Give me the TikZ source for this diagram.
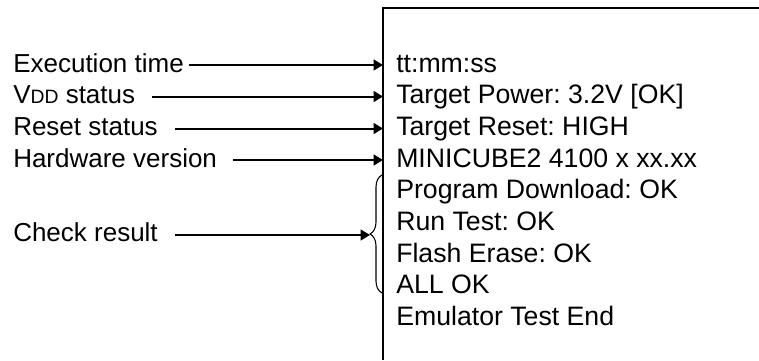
\documentclass[tikz,border=0pt]{standalone}
\usepackage{fontspec}
\setmainfont{Liberation Sans}
\usetikzlibrary{arrows.meta,decorations.pathreplacing}
\tikzset{
  txt/.style={anchor=base west,inner sep=0pt,font=\fontsize{20pt}{24pt}\selectfont},
  lab/.style={anchor=base west,inner sep=0pt,font=\fontsize{19.5pt}{23pt}\selectfont},
  arr/.style={line width=1.5pt,-{Triangle[length=7pt,width=8pt]}},
  frame/.style={line width=0.8pt},
  brc/.style={line width=0.8pt,decorate,decoration={brace,amplitude=9pt}}
}
\begin{document}
\frenchspacing
\begin{tikzpicture}[x=0.75pt,y=-0.75pt]
\useasboundingbox (0,0) rectangle (759,360);
% frame (cropped box)
\draw[frame] (383,360) -- (383,8) -- (759,8);
% right texts
\node[txt] (r1) at (396,72.0) {tt:mm:ss};
\node[txt] (r2) at (396,103.7) {Target Power: 3.2V [OK]};
\node[txt] (r3) at (396,135.4) {Target Reset: HIGH};
\node[txt] (r4) at (396,167.1) {MINICUBE2 4100 x xx.xx};
\node[txt] (r5) at (396,198.8) {Program Download: OK};
\node[txt] (r6) at (396,230.5) {Run Test: OK};
\node[txt] (r7) at (396,262.2) {Flash Erase: OK};
\node[txt] (r8) at (396,293.9) {ALL OK};
\node[txt] (r9) at (396,325.6) {Emulator Test End};
% left labels
\node[lab] (l1) at (13,72.0) {Execution time};
\node[lab] (l2) at (13,103.7) {V{\fontsize{14.5pt}{16pt}\selectfont DD} status};
\node[lab] (l3) at (13,135.4) {Reset status};
\node[lab] (l4) at (13,167.1) {Hardware version};
\node[lab] (l5) at (13,241) {Check result};
% connector ends
\coordinate (s1) at (189,65);   \coordinate (e1) at (383,65);
\coordinate (s2) at (152,96.5); \coordinate (e2) at (383,96.5);
\coordinate (s3) at (175,128.5);\coordinate (e3) at (383,128.5);
\coordinate (s4) at (233,160);  \coordinate (e4) at (383,160);
\coordinate (s5) at (175,235);  \coordinate (bt) at (382,293); \coordinate (bb) at (382,175);
% brace
\draw[brc] (bt) -- (bb);
\coordinate (e5) at (370,235);
\draw[arr] (s1) -- (e1);
\draw[arr] (s2) -- (e2);
\draw[arr] (s3) -- (e3);
\draw[arr] (s4) -- (e4);
\draw[arr] (s5) -- (e5);
\end{tikzpicture}
\end{document}
